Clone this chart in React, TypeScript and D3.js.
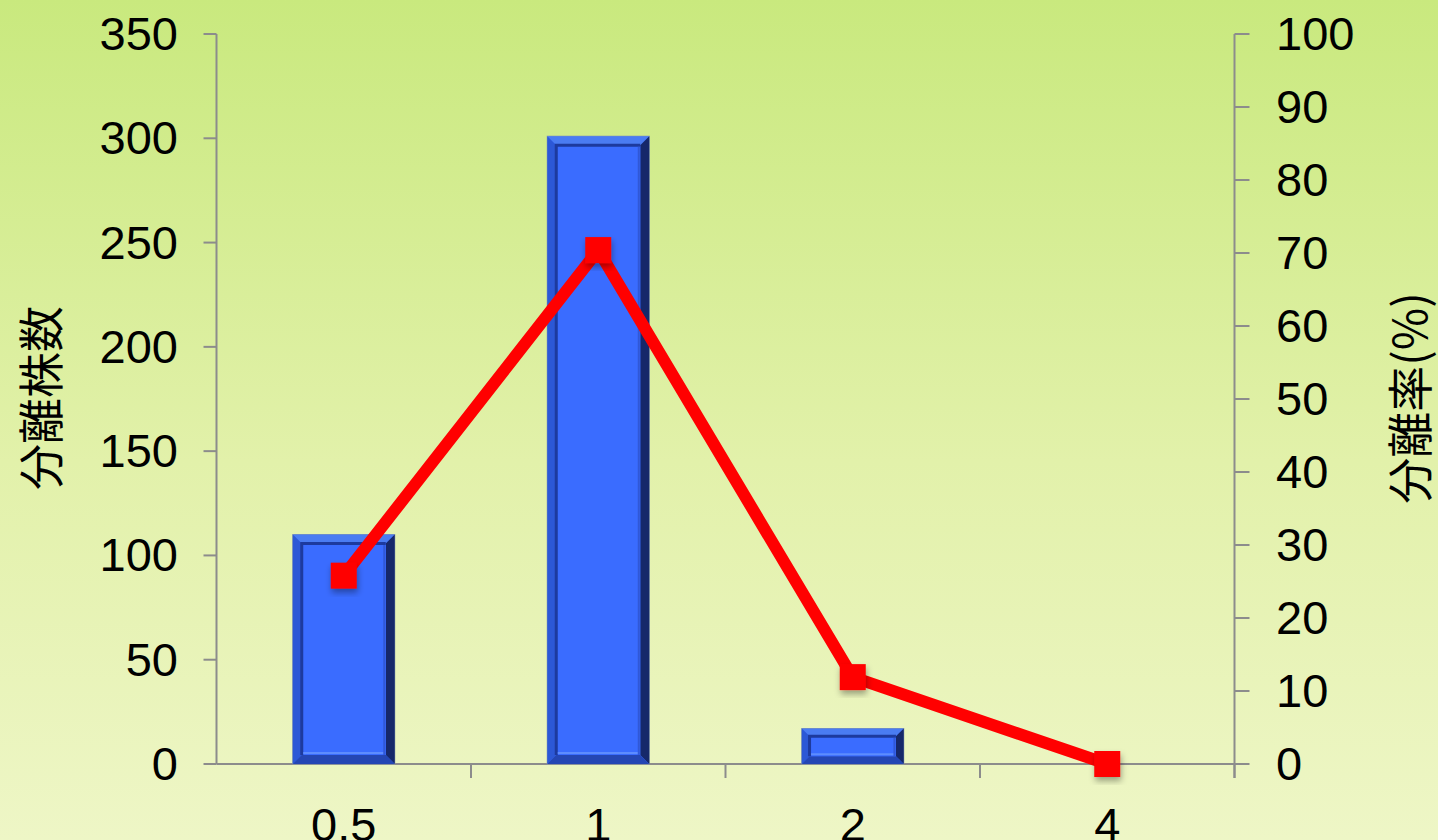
import React from "react";
import * as d3 from "d3";

const categories = ["0.5", "1", "2", "4"];
const counts = [110, 301, 17, 0];
const rates = [25.8, 70.4, 11.9, 0];
const leftTicks = [0, 50, 100, 150, 200, 250, 300, 350];
const rightTicks = [0, 10, 20, 30, 40, 50, 60, 70, 80, 90, 100];

const W = 1438, H = 840;
const L = 216.5, R = 1234.5, T = 34, B = 764;

export default function App() {
  const x = d3.scaleBand<string>().domain(categories).range([L, R]);
  const yL = d3.scaleLinear().domain([0, 350]).range([B, T]);
  const yR = d3.scaleLinear().domain([0, 100]).range([B, T]);
  const bw = 102;
  const font = "'Liberation Sans', Arial, sans-serif";
  const line = d3.line<number>().x((_, i) => x(categories[i])! + x.bandwidth() / 2).y(d => yR(d));

  const bars = counts.map((c, i) => {
    if (c <= 0) return null;
    const cx = x(categories[i])! + x.bandwidth() / 2;
    const x0 = cx - bw / 2, x1 = cx + bw / 2, y0 = yL(c), y1 = B;
    const h = y1 - y0;
    const b = Math.min(9, h * 0.22);
    const pts = (a: number[][]) => a.map(p => p.join(",")).join(" ");
    return (
      <g key={i}>
        <rect x={x0} y={y0} width={bw} height={h} fill="#3a6cff" stroke="#8a9aa8" strokeWidth={1} />
        <polygon points={pts([[x0, y0], [x1, y0], [x1 - b, y0 + b], [x0 + b, y0 + b]])} fill="#4a7cf2" />
        <polygon points={pts([[x0, y0], [x0 + b, y0 + b], [x0 + b, y1 - b], [x0, y1]])} fill="#2c58d6" />
        <polygon points={pts([[x1, y0], [x1, y1], [x1 - b, y1 - b], [x1 - b, y0 + b]])} fill="#16286a" />
        <polygon points={pts([[x0, y1], [x1, y1], [x1 - b, y1 - b], [x0 + b, y1 - b]])} fill="#2446b4" />
        <rect x={x0 + b} y={y0 + b} width={bw - 2 * b} height={Math.max(0, h - 2 * b)} fill="#3a6cff" />
        <path d={`M${x0 + b},${y1 - b} L${x0 + b},${y0 + b} L${x1 - b},${y0 + b}`} fill="none" stroke="#1d3a9e" strokeWidth={3} />
        <path d={`M${x0 + b + 1.5},${y1 - b - 2} L${x1 - b - 1.5},${y1 - b - 2}`} fill="none" stroke="#5d8cff" strokeWidth={2} />
        <path d={`M${x1 - b - 1.5},${y0 + b + 1.5} L${x1 - b - 1.5},${y1 - b}`} fill="none" stroke="#3058d8" strokeWidth={2} />
      </g>
    );
  });

  return (
    <svg width={W} height={H} style={{ position: "absolute", left: 0, top: 0 }} fontFamily={font}>
      <defs>
        <linearGradient id="bg" x1="0" y1="0" x2="0" y2="1">
          <stop offset="0" stopColor="#c9e97e" />
          <stop offset="0.55" stopColor="#e2f1aa" />
          <stop offset="1" stopColor="#eef6c6" />
        </linearGradient>
        <filter id="sh" x="-30%" y="-30%" width="160%" height="160%">
          <feDropShadow dx="1" dy="4" stdDeviation="3" floodColor="#000" floodOpacity="0.35" />
        </filter>
      </defs>
      <rect width={W} height={H} fill="url(#bg)" />
      <g stroke="#8c8c8c" strokeWidth={2} fill="none">
        <line x1={L} y1={T} x2={L} y2={B} />
        {leftTicks.map(t => <line key={t} x1={L - 13} x2={L} y1={yL(t)} y2={yL(t)} />)}
        <line x1={R} y1={T} x2={R} y2={778} />
        {rightTicks.map(t => <line key={t} x1={R} x2={R + 15} y1={yR(t)} y2={yR(t)} />)}
        <line x1={L} y1={B} x2={R} y2={B} />
        {categories.map(c => <line key={c} x1={x(c)! + x.bandwidth()} x2={x(c)! + x.bandwidth()} y1={B} y2={778} />)}
      </g>
      {bars}
      <path d={line(rates)!} fill="none" stroke="#ff0000" strokeWidth={12} strokeLinejoin="miter" />
      {rates.map((r, i) => (
        <rect key={i} x={x(categories[i])! + x.bandwidth() / 2 - 13} y={yR(r) - 13} width={26} height={26} fill="#ff0000" filter="url(#sh)" />
      ))}
      <g fontSize={47} fill="#000">
        {leftTicks.map(t => <text key={t} x={178} y={yL(t) + 16} textAnchor="end">{t}</text>)}
        {rightTicks.map(t => <text key={t} x={1276} y={yR(t) + 16} textAnchor="start">{t}</text>)}
        {categories.map(c => <text key={c} x={x(c)! + x.bandwidth() / 2} y={841} textAnchor="middle">{c}</text>)}
      </g>
      <text transform="translate(58,398) rotate(-90)" textAnchor="middle" fontSize={46} fontFamily="'Noto Sans CJK JP', sans-serif">分離株数</text>
      <text transform="translate(1427,398) rotate(-90)" textAnchor="middle" fontSize={46} fontFamily="'Noto Sans CJK JP', sans-serif">分離率(%)</text>
    </svg>
  );
}
